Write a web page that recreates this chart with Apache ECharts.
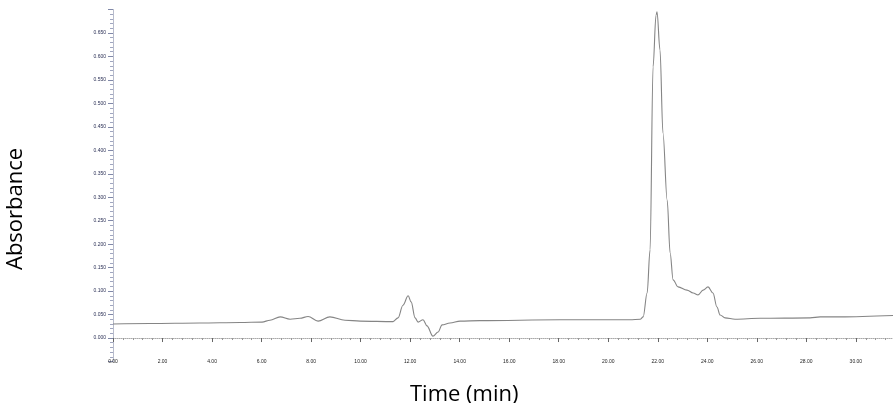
<!DOCTYPE html>
<html>
<head>
<meta charset="utf-8">
<script src="https://cdn.jsdelivr.net/npm/echarts@6/dist/echarts.min.js"></script>
<style>
  html, body { margin: 0; padding: 0; background: #fff; }
  #chart { width: 893px; height: 403px; }
</style>
</head>
<body>
<div id="chart"></div>
<script>
// retention time (min) and absorbance
var times = [0.00, 1.49, 3.51, 5.13, 6.02, 6.34, 6.75, 7.15, 7.55, 7.88, 8.28, 8.76, 9.37, 9.98,
  11.31, 11.51, 11.71, 11.92, 12.04, 12.20, 12.32, 12.52, 12.68, 12.92, 13.13, 13.29, 13.61, 14.02,
  14.82, 18.05, 20.88, 21.29, 21.41, 21.57, 21.69, 21.81, 21.93, 21.97, 22.09, 22.21, 22.38, 22.50,
  22.62, 22.82, 23.18, 23.43, 23.63, 23.83, 24.03, 24.23, 24.39, 24.52, 24.72, 25.12, 26.13, 28.15,
  28.56, 29.36, 31.50];
var absorbance = [0.030, 0.031, 0.032, 0.033, 0.034, 0.038, 0.045, 0.040, 0.042, 0.046, 0.036, 0.045, 0.038, 0.036,
  0.035, 0.043, 0.070, 0.090, 0.077, 0.043, 0.034, 0.039, 0.026, 0.004, 0.013, 0.028, 0.032, 0.036,
  0.037, 0.039, 0.039, 0.040, 0.045, 0.096, 0.188, 0.578, 0.688, 0.695, 0.614, 0.437, 0.294, 0.181,
  0.124, 0.109, 0.102, 0.096, 0.092, 0.102, 0.109, 0.096, 0.066, 0.049, 0.043, 0.040, 0.042, 0.043,
  0.045, 0.045, 0.048];

var xTitle = 'Time (min)';
var yTitle = 'Absorbance';

var points = times.map(function (t, i) { return [t, absorbance[i]]; });

var chart = echarts.init(document.getElementById('chart'));
chart.setOption({
  animation: false,
  grid: { left: 113, right: 0, top: 9.5, bottom: 41.5 },
  graphic: [
    {
      type: 'text', left: 410, top: 384,
      style: { text: xTitle, font: '22px "Open Sans"', fill: '#000' }
    },
    {
      type: 'text', x: 5, y: 270, rotation: Math.PI / 2,
      style: { text: yTitle, font: '22px "Open Sans"', fill: '#000' }
    }
  ],
  xAxis: {
    type: 'value',
    min: 0, max: 31.5, interval: 2,
    offset: -7.5,
    axisLine: { lineStyle: { color: '#aaa', type: 'dotted', width: 1 } },
    axisTick: { length: 4, lineStyle: { color: '#666' } },
    minorTick: { show: true, splitNumber: 5, length: 2, lineStyle: { color: '#999' } },
    axisLabel: {
      showMaxLabel: false, fontSize: 5, color: '#222', margin: 5,
      formatter: function (v) { return v.toFixed(2); }
    },
    splitLine: { show: false }
  },
  yAxis: {
    type: 'value',
    min: -0.05, max: 0.70, interval: 0.05,
    axisLine: { show: true, lineStyle: { color: '#b8bccc', width: 1 } },
    axisTick: { length: 5, lineStyle: { color: '#8088a8' } },
    minorTick: { show: true, splitNumber: 5, length: 3, lineStyle: { color: '#a0a6c0' } },
    axisLabel: {
      showMinLabel: false, showMaxLabel: false, fontSize: 5, color: '#2a2f55', margin: 7,
      formatter: function (v) { return v.toFixed(3); }
    },
    splitLine: { show: false }
  },
  series: [{
    type: 'line',
    data: points,
    symbol: 'none',
    smooth: 0.35,
    smoothMonotone: 'x',
    lineStyle: { color: '#858585', width: 1.1 }
  }]
});
</script>
</body>
</html>
